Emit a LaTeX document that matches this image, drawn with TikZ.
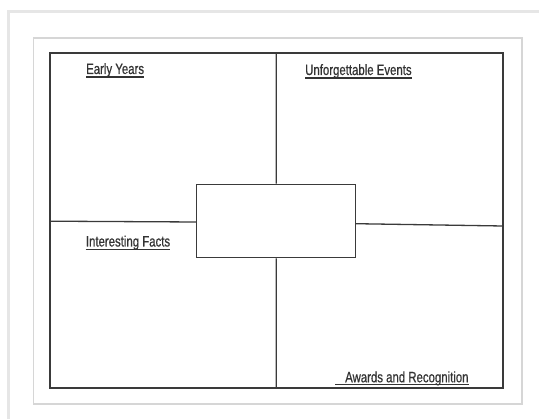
\documentclass[tikz,border=0pt]{standalone}
\usepackage{fontspec}
\newfontfamily\labelfont[FakeStretch=0.76,FakeBold=0.6]{Liberation Sans}
\definecolor{inkc}{HTML}{3A3A3A}
\definecolor{textc}{HTML}{333333}
\definecolor{outerc}{HTML}{E6E6E6}
\definecolor{pagec}{HTML}{D6D6D6}
\begin{document}
\begin{tikzpicture}[x=1pt,y=-1pt,
  frameline/.style={draw=inkc, line width=1.6pt},
  divline/.style={draw=inkc, line width=1.3pt},
  uline/.style={draw=textc, line width=1.1pt},
  lbl/.style={anchor=base west, inner sep=0pt, text=textc, font=\labelfont\fontsize{15}{17}\selectfont}]
\useasboundingbox (0,0) rectangle (539,419);
\fill[white] (0,0) rectangle (539,419);
% outer light frame (right and bottom lie outside the picture)
\coordinate (ob) at (8.5,419);
\coordinate (oc) at (8.5,12);
\coordinate (or) at (539,12);
\draw[outerc, line width=3pt] (ob) -- (oc) -- (or);
% page
\node[draw=pagec, line width=1.5pt, minimum width=488.5pt, minimum height=366pt, inner sep=0pt] (page) at (277.75,221) {};
% inner frame
\node[frameline, minimum width=452.7pt, minimum height=334.7pt, inner sep=0pt] (frame) at (276.35,220.65) {};
% centre box
\node[divline, minimum width=159pt, minimum height=73.4pt, inner sep=0pt] (center) at (276.2,221) {};
% dividers
\coordinate (lw) at (50,221.2);
\coordinate (lc) at (196.7,222);
\coordinate (rc) at (355.7,223.7);
\coordinate (re) at (502.7,226);
\draw[divline] (frame.north) -- (center.north);
\draw[divline] (center.south) -- (frame.south);
\draw[divline] (lw) -- (lc);
\draw[divline] (rc) -- (re);
% labels
\node[lbl] (ey) at (86,74) {Early Years};
\node[lbl] (ue) at (305,75) {Unforgettable Events};
\node[lbl] (if) at (85.7,246.5) {Interesting Facts};
\node[lbl] (ar) at (345,382.3) {Awards and Recognition};
\coordinate (arst) at (335,384.6);
% underlines
\draw[uline] ([yshift=-3pt]ey.base west) -- ([yshift=-3pt]ey.base east);
\draw[uline] ([yshift=-3pt]ue.base west) -- ([yshift=-3pt]ue.base east);
\draw[uline] ([yshift=-3pt]if.base west) -- ([yshift=-3pt]if.base east);
\draw[uline] (arst) -- (arst -| ar.east);
\end{tikzpicture}
\end{document}
